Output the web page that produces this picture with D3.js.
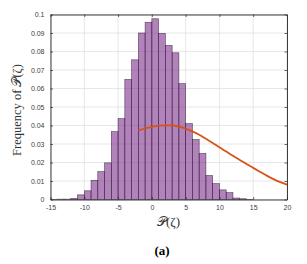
<!DOCTYPE html>
<html><head><meta charset="utf-8">
<script src="https://cdn.jsdelivr.net/npm/d3@7"></script>
<style>body{margin:0;background:#fff}svg{display:block}</style>
</head><body>
<script>
// Histogram bins (lower edge, width 1) and frequencies
const binStarts = [-15,-14,-13,-12,-11,-10,-9,-8,-7,-6,-5,-4,-3,-2,-1,0,1,2,3,4,5,6,7,8,9,10,11,12,13,14];
const binFreq = [0.0001,0.0002,0.0002,0.0006,0.0025,0.0047,0.0104,0.0151,0.0198,0.0367,0.0437,0.0649,0.0755,0.0900,0.0958,0.0977,0.0898,0.0833,0.0793,0.0626,0.0410,0.0324,0.0249,0.0130,0.0086,0.0052,0.0037,0.0008,0.0004,0.0001];
const binWidth = 1;
// Orange curve points
const curveX = [-2,-1,0,1,2,3,4,5,6,7,8,9,10,11,12,13,14,15,16,17,18,19,20];
const curveY = [0.0372,0.0384,0.0393,0.0399,0.0401,0.0400,0.0394,0.0383,0.0368,0.0350,0.0328,0.0306,0.0282,0.0259,0.0236,0.0214,0.0192,0.0171,0.0150,0.0129,0.0110,0.0094,0.0080];
// Ticks
const xTicks = [-15,-10,-5,0,5,10,15,20];
const yTicks = [0,0.01,0.02,0.03,0.04,0.05,0.06,0.07,0.08,0.09,0.1];

const W = 307, H = 264;
const m = {left:50.5, right:W-287, top:14.5, bottom:H-199.5};
const svg = d3.select("body").append("svg").attr("width",W).attr("height",H);
const x = d3.scaleLinear().domain([-15,20]).range([m.left, W-m.right]);
const y = d3.scaleLinear().domain([0,0.1]).range([H-m.bottom, m.top]);

// grid
const g = svg.append("g");
g.selectAll(".gx").data(xTicks).join("line")
  .attr("x1",d=>x(d)).attr("x2",d=>x(d)).attr("y1",y(0)).attr("y2",y(0.1))
  .attr("stroke","#dcdcdc").attr("stroke-width",0.7);
g.selectAll(".gy").data(yTicks).join("line")
  .attr("y1",d=>y(d)).attr("y2",d=>y(d)).attr("x1",x(-15)).attr("x2",x(20))
  .attr("stroke","#dcdcdc").attr("stroke-width",0.7);

// bars
svg.append("g").selectAll("rect").data(binStarts).join("rect")
  .attr("x",d=>x(d)).attr("width",d=>x(d+binWidth)-x(d))
  .attr("y",(d,i)=>y(binFreq[i])).attr("height",(d,i)=>y(0)-y(binFreq[i]))
  .attr("fill","rgba(126,47,142,0.6)")
  .attr("stroke","rgba(40,20,45,0.75)").attr("stroke-width",0.6);

// curve
const pts = curveX.map((v,i)=>[v,curveY[i]]);
svg.append("path").datum(pts)
  .attr("d", d3.line().x(d=>x(d[0])).y(d=>y(d[1])).curve(d3.curveMonotoneX))
  .attr("fill","none").attr("stroke","#d95319").attr("stroke-width",1.8);

// axes box
const axColor = "#262626";
const tickFont = "'Liberation Sans', Arial, sans-serif";
const xb = d3.axisBottom(x).tickValues(xTicks).tickSizeInner(-2.5).tickSizeOuter(0).tickPadding(6)
  .tickFormat(d=>d);
const gxb = svg.append("g").attr("transform",`translate(0,${y(0)})`).call(xb);
const xt = d3.axisTop(x).tickValues(xTicks).tickSizeInner(-2.5).tickSizeOuter(0).tickFormat("");
const gxt = svg.append("g").attr("transform",`translate(0,${y(0.1)})`).call(xt);
const yl = d3.axisLeft(y).tickValues(yTicks).tickSizeInner(-2.5).tickSizeOuter(0).tickPadding(6)
  .tickFormat(d=>d===0?"0":d3.format("")(+d.toFixed(2)));
const gyl = svg.append("g").attr("transform",`translate(${x(-15)},0)`).call(yl);
const yr = d3.axisRight(y).tickValues(yTicks).tickSizeInner(-2.5).tickSizeOuter(0).tickFormat("");
const gyr = svg.append("g").attr("transform",`translate(${x(20)},0)`).call(yr);
[gxb,gxt,gyl,gyr].forEach(a=>{
  a.select(".domain").attr("stroke",axColor).attr("stroke-width",0.9);
  a.selectAll(".tick line").attr("stroke",axColor).attr("stroke-width",0.7);
  a.selectAll("text").attr("fill","#404040").style("font-family",tickFont).style("font-size","7px");
});
gxb.selectAll("text").text(d=>d<0?"-"+Math.abs(d):d);

// labels
const serif = "'Liberation Serif','DejaVu Serif','Times New Roman',serif";
svg.append("text").attr("x",168.5).attr("y",226).attr("text-anchor","middle")
  .style("font-family",serif).style("font-size","13px").attr("fill","#333")
  .text("𝒫(ζ)");
svg.append("text").attr("transform","translate(21,110) rotate(-90)").attr("text-anchor","middle")
  .style("font-family",serif).style("font-size","12.5px").attr("fill","#333")
  .text("Frequency of 𝒫(ζ)");
svg.append("text").attr("x",162).attr("y",255).attr("text-anchor","middle")
  .style("font-family","'Liberation Serif'").style("font-size","13px").style("font-weight","700").attr("fill","#000")
  .text("(a)");
</script>
</body></html>
